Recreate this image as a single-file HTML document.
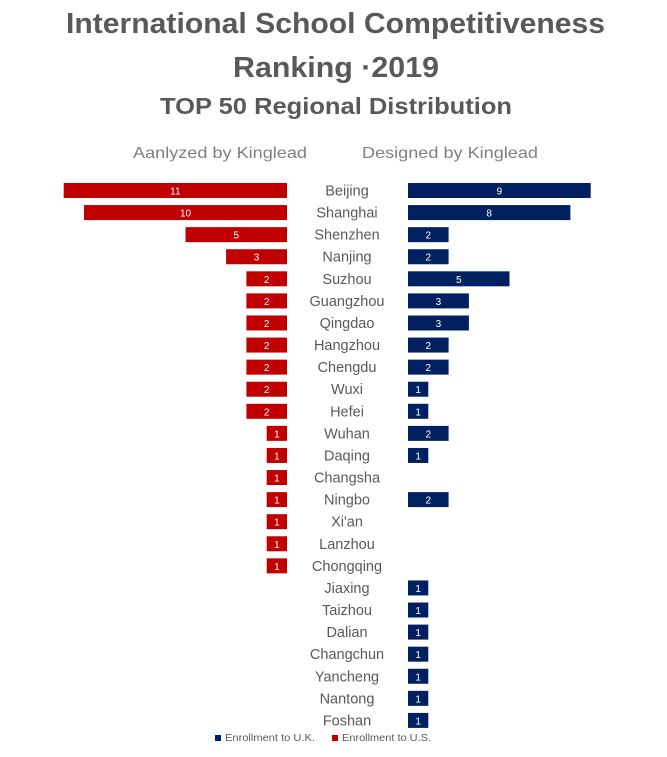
<!DOCTYPE html>
<html><head><meta charset="utf-8"><style>
html,body{margin:0;padding:0;background:#fff;}
svg{display:block;font-family:"Liberation Sans",sans-serif;}
</style></head><body>
<svg id="chart" width="667" height="757" viewBox="0 0 667 757">
<text x="66" y="33" textLength="539" lengthAdjust="spacingAndGlyphs" font-size="29" font-weight="bold" fill="#595959">International School Competitiveness</text>
<text x="233" y="77" textLength="206" lengthAdjust="spacingAndGlyphs" font-size="29" font-weight="bold" fill="#595959">Ranking ·2019</text>
<text x="160" y="114" textLength="352" lengthAdjust="spacingAndGlyphs" font-size="23" font-weight="bold" fill="#595959">TOP 50 Regional Distribution</text>
<text x="133" y="158" textLength="174" lengthAdjust="spacingAndGlyphs" font-size="16" fill="#7f7f7f">Aanlyzed by Kinglead</text>
<text x="362" y="158" textLength="176" lengthAdjust="spacingAndGlyphs" font-size="16" fill="#7f7f7f">Designed by Kinglead</text>
<g id="marks"></g>
<rect x="215" y="735" width="6" height="6" fill="#002060"/>
<text x="225" y="741" textLength="90" lengthAdjust="spacingAndGlyphs" font-size="10" fill="#595959">Enrollment to U.K.</text>
<rect x="332" y="735" width="6" height="6" fill="#c00000"/>
<text x="342" y="741" textLength="89" lengthAdjust="spacingAndGlyphs" font-size="10" fill="#595959">Enrollment to U.S.</text>
</svg>
<script>
const cities=["Beijing","Shanghai","Shenzhen","Nanjing","Suzhou","Guangzhou","Qingdao","Hangzhou","Chengdu","Wuxi","Hefei","Wuhan","Daqing","Changsha","Ningbo","Xi'an","Lanzhou","Chongqing","Jiaxing","Taizhou","Dalian","Changchun","Yancheng","Nantong","Foshan"];
const usValues=[11,10,5,3,2,2,2,2,2,2,2,1,1,1,1,1,1,1,0,0,0,0,0,0,0];
const ukValues=[9,8,2,2,5,3,3,2,2,1,1,2,1,0,2,0,0,0,1,1,1,1,1,1,1];
const unit=20.3, leftEnd=287, rightStart=408, y0=183, step=22.08, bh=15;
const xs=v=>v*unit, ys=i=>y0+i*step;
const g=document.getElementById('marks');
const NS="http://www.w3.org/2000/svg";
function mk(t,a){const e=document.createElementNS(NS,t);for(const k in a)e.setAttribute(k,a[k]);g.appendChild(e);return e;}
cities.forEach((c,i)=>{
  const y=ys(i);
  const lab=mk('text',{x:347,y:y+12.5,'text-anchor':'middle','font-size':14.5,fill:'#595959'});
  lab.textContent=c;
  
  
  const u=usValues[i];
  if(u>0){
    const w=xs(u);
    const r=mk('rect',{x:leftEnd-w,y:y,width:w,height:bh,fill:'#c00000'});
    
    
    const t=mk('text',{x:leftEnd-w/2,y:y+11.5,'text-anchor':'middle','font-size':10,fill:'#fff'});
    t.textContent=u;
    
    
  }
  const k=ukValues[i];
  if(k>0){
    const w=xs(k);
    const r=mk('rect',{x:rightStart,y:y,width:w,height:bh,fill:'#002060'});
    
    
    const t=mk('text',{x:rightStart+w/2,y:y+11.5,'text-anchor':'middle','font-size':10,fill:'#fff'});
    t.textContent=k;
    
    
  }
});
</script>
</body></html>
